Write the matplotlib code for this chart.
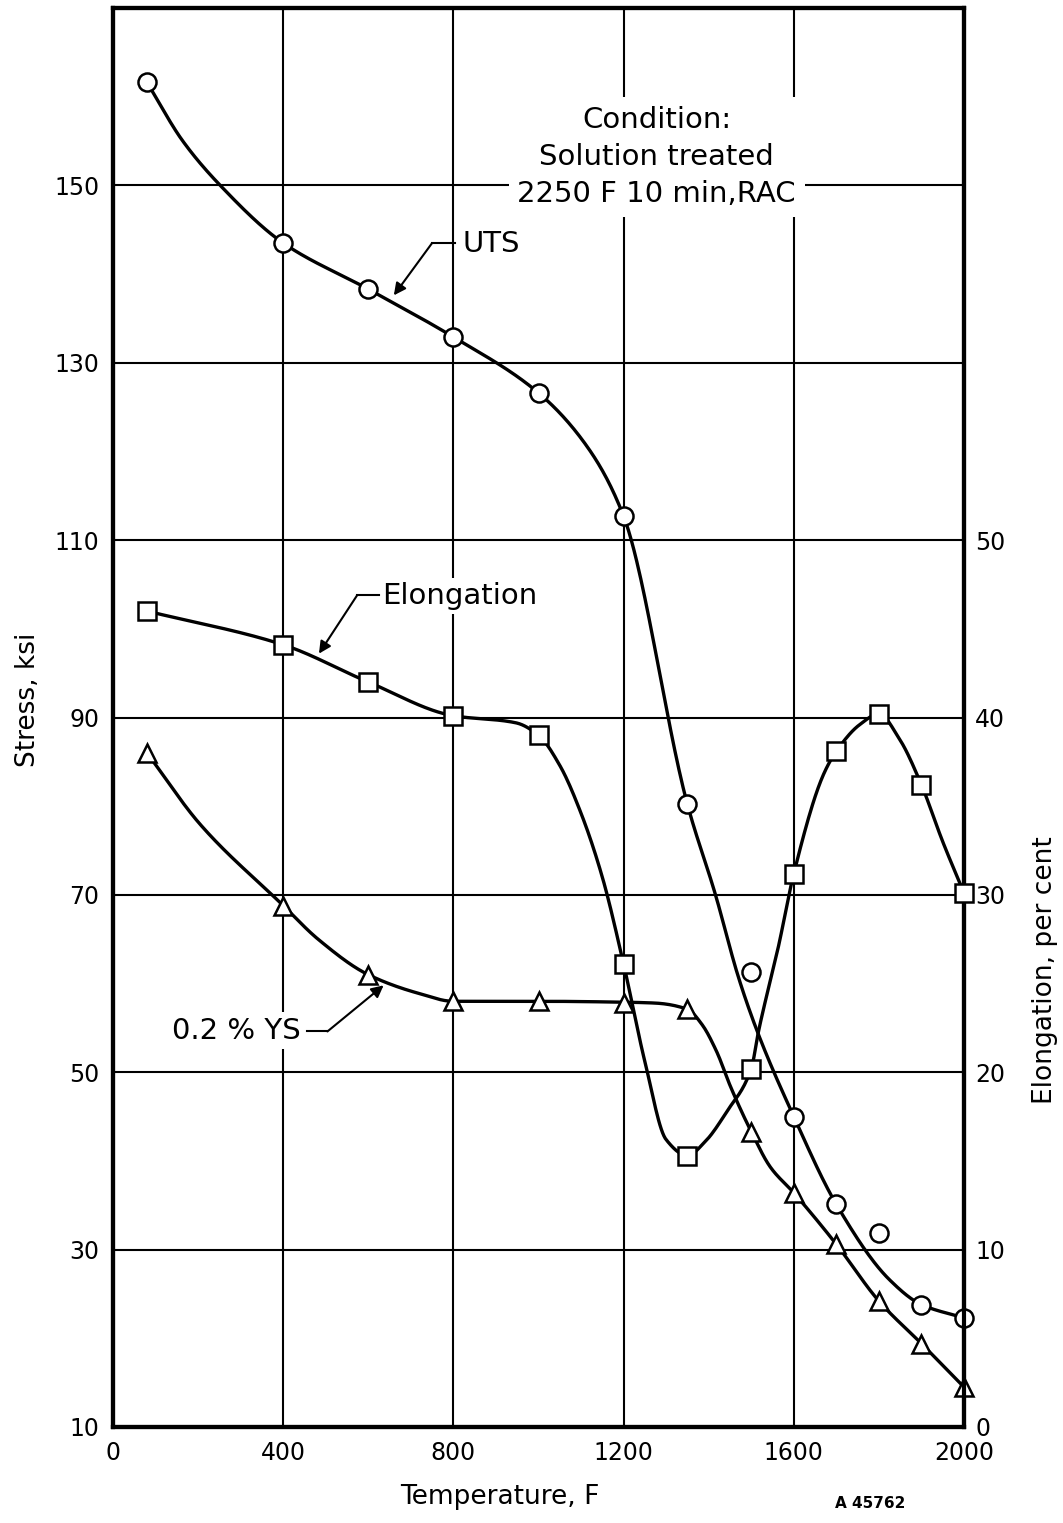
"""
Elevated-temperature tensile properties, solution treated 2250 F 10 min, RAC.
UTS and 0.2 % YS on the stress axis, elongation on the right-hand axis.
"""
import numpy as np
import matplotlib
matplotlib.use("Agg")
import matplotlib.pyplot as plt

# ---------------------------------------------------------------------------
# Test points
# ---------------------------------------------------------------------------
temp_F   = [80, 400, 600, 800, 1000, 1200, 1350, 1500, 1600, 1700, 1800, 1900, 2000]
uts_ksi  = [161.6, 143.5, 138.3, 132.9, 126.6, 112.7, 80.2, 61.3, 45.0, 35.1, 31.9, 23.8, 22.3]
ys_ksi   = [86.0, 68.8, 61.0, 58.0, 58.0, 57.8, 57.1, 43.3, 36.4, 30.6, 24.2, 19.4, 14.5]
elong_pc = [46.0, 44.1, 42.0, 40.1, 39.0, 26.1, 15.3, 20.2, 31.2, 38.1, 40.2, 36.2, 30.1]

# Faired curves (hand-drawn in the original), traced at a few stations.
# The UTS curve skips the 1500 F and 1800 F points, as in the source.
uts_curve_T = [80, 164, 250, 400, 600, 800, 1000, 1115, 1200, 1350, 1416, 1470, 1515,
               1600, 1700, 1825, 1900, 2000]
uts_curve_S = [161.6, 155.0, 150.1, 143.5, 138.3, 132.9, 126.6, 120.5, 112.7, 80.2,
               70.0, 60.7, 54.5, 45.0, 35.1, 26.6, 23.8, 22.3]

ys_curve_T = [80, 204, 400, 482, 600, 718, 800, 1000, 1200, 1274, 1350, 1384, 1418,
              1452, 1500, 1545, 1600, 1700, 1800, 1900, 2000]
ys_curve_S = [86.0, 78.0, 68.8, 65.0, 61.0, 58.9, 58.0, 58.0, 57.9, 57.8, 57.1, 55.4,
              52.4, 48.3, 43.3, 39.3, 36.4, 30.6, 24.2, 19.4, 14.5]

el_curve_T = [80, 400, 600, 800, 947, 1000, 1050, 1100, 1150, 1200, 1250, 1300, 1350,
              1392, 1443, 1500, 1517, 1564, 1600, 1670, 1700, 1755, 1800, 1848, 1900,
              1950, 2000]
el_curve_E = [46.0, 44.1, 42.0, 40.1, 39.7, 39.0, 37.3, 34.6, 31.0, 26.1, 20.6, 16.2,
              15.3, 16.1, 17.8, 20.2, 22.3, 27.1, 31.2, 36.8, 38.1, 39.6, 40.2, 38.8,
              36.2, 33.0, 30.1]

x_ticks     = [0, 400, 800, 1200, 1600, 2000]
stress_tick = [10, 30, 50, 70, 90, 110, 130, 150]
elong_tick  = [0, 10, 20, 30, 40, 50]


def pchip(x, y, xn):
    """Shape-preserving cubic through the traced stations (no overshoot)."""
    x = np.asarray(x, float)
    y = np.asarray(y, float)
    h = np.diff(x)
    d = np.diff(y) / h
    m = np.zeros_like(y)
    for k in range(1, len(x) - 1):
        if d[k - 1] * d[k] > 0:
            w1 = 2 * h[k] + h[k - 1]
            w2 = h[k] + 2 * h[k - 1]
            m[k] = (w1 + w2) / (w1 / d[k - 1] + w2 / d[k])
    m[0], m[-1] = d[0], d[-1]
    i = np.clip(np.searchsorted(x, xn) - 1, 0, len(h) - 1)
    t = (xn - x[i]) / h[i]
    return ((2 * t**3 - 3 * t**2 + 1) * y[i] + (t**3 - 2 * t**2 + t) * h[i] * m[i]
            + (-2 * t**3 + 3 * t**2) * y[i + 1] + (t**3 - t**2) * h[i] * m[i + 1])


# ---------------------------------------------------------------------------
# Figure
# ---------------------------------------------------------------------------
plt.rcParams["font.family"] = ["DejaVu Sans"]
fig = plt.figure(figsize=(10.63, 15.23), dpi=100)
ax = fig.add_axes([113 / 1063, 96 / 1523, 851 / 1063, 1419 / 1523])

ax.set_xlim(0, 2000)
ax.set_ylim(10, 170)
ax.set_xticks(x_ticks)
ax.set_yticks(stress_tick)
ax.grid(True, color="black", lw=1.5)
ax.set_axisbelow(True)
ax.tick_params(length=0, labelsize=17, pad=10)
for sp in ax.spines.values():
    sp.set_linewidth(3)

ax2 = ax.twinx()
ax2.set_ylim(0, 80)
ax2.set_yticks(elong_tick)
ax2.tick_params(length=0, labelsize=17, pad=8)
for sp in ax2.spines.values():
    sp.set_linewidth(3)

mk = dict(mfc="white", mec="black", mew=1.8, ls="none", zorder=5, clip_on=False)

# UTS
tt = np.linspace(uts_curve_T[0], uts_curve_T[-1], 600)
ax.plot(tt, pchip(uts_curve_T, uts_curve_S, tt), color="black", lw=2.4, zorder=3)
ax.plot(temp_F, uts_ksi, marker="o", ms=13, **mk)

# 0.2 % YS
tt = np.linspace(ys_curve_T[0], ys_curve_T[-1], 600)
ax.plot(tt, pchip(ys_curve_T, ys_curve_S, tt), color="black", lw=2.4, zorder=3)
ax.plot(temp_F, ys_ksi, marker="^", ms=13, **mk)

# Elongation (right axis)
tt = np.linspace(el_curve_T[0], el_curve_T[-1], 600)
ax2.plot(tt, pchip(el_curve_T, el_curve_E, tt), color="black", lw=2.4, zorder=3)
ax2.plot(temp_F, elong_pc, marker="s", ms=12.5, **mk)

# ---------------------------------------------------------------------------
# Curve labels with leader lines
# ---------------------------------------------------------------------------
box = dict(facecolor="white", edgecolor="none", pad=3)
arrow = dict(arrowstyle="-|>", color="black", lw=1.5, mutation_scale=18,
             shrinkA=0, shrinkB=0)

# (label, text centre, leader start, knee, arrow tip) in stress-axis units
labels = [
    ("UTS",        (889, 143.4), (804, 143.5), (750, 143.5), (660, 137.6)),
    ("Elongation", (814, 103.7), (624, 103.8), (574, 103.8), (484, 97.2)),
    ("0.2 % YS",   (291, 54.7),  (457, 54.6),  (504, 54.6),  (636, 59.8)),
]
for txt, pos, start, knee, tip in labels:
    ax.text(*pos, txt, fontsize=21, ha="center", va="center", bbox=box, zorder=2)
    ax.plot([start[0], knee[0]], [start[1], knee[1]], color="black", lw=1.5, zorder=3)
    ax.annotate("", xy=tip, xytext=knee, arrowprops=arrow, zorder=3)

ax.text(1278, 153.2, "Condition:\nSolution treated\n2250 F 10 min,RAC",
        fontsize=21, ha="center", va="center", multialignment="center",
        linespacing=1.42, bbox=dict(facecolor="white", edgecolor="none", pad=6),
        zorder=2)

# Axis titles
fig.text(500 / 1063, 1 - 1497 / 1523, "Temperature, F", fontsize=19,
         ha="center", va="center")
fig.text(28 / 1063, 1 - 700 / 1523, "Stress, ksi", fontsize=19,
         rotation=90, ha="center", va="center")
fig.text(1045 / 1063, 1 - 970 / 1523, "Elongation, per cent", fontsize=19,
         rotation=90, ha="center", va="center")
fig.text(870 / 1063, 1 - 1503 / 1523, "A 45762", fontsize=11,
         fontweight="bold", ha="center", va="center")

fig.savefig("out.png", dpi=100, facecolor="white")
